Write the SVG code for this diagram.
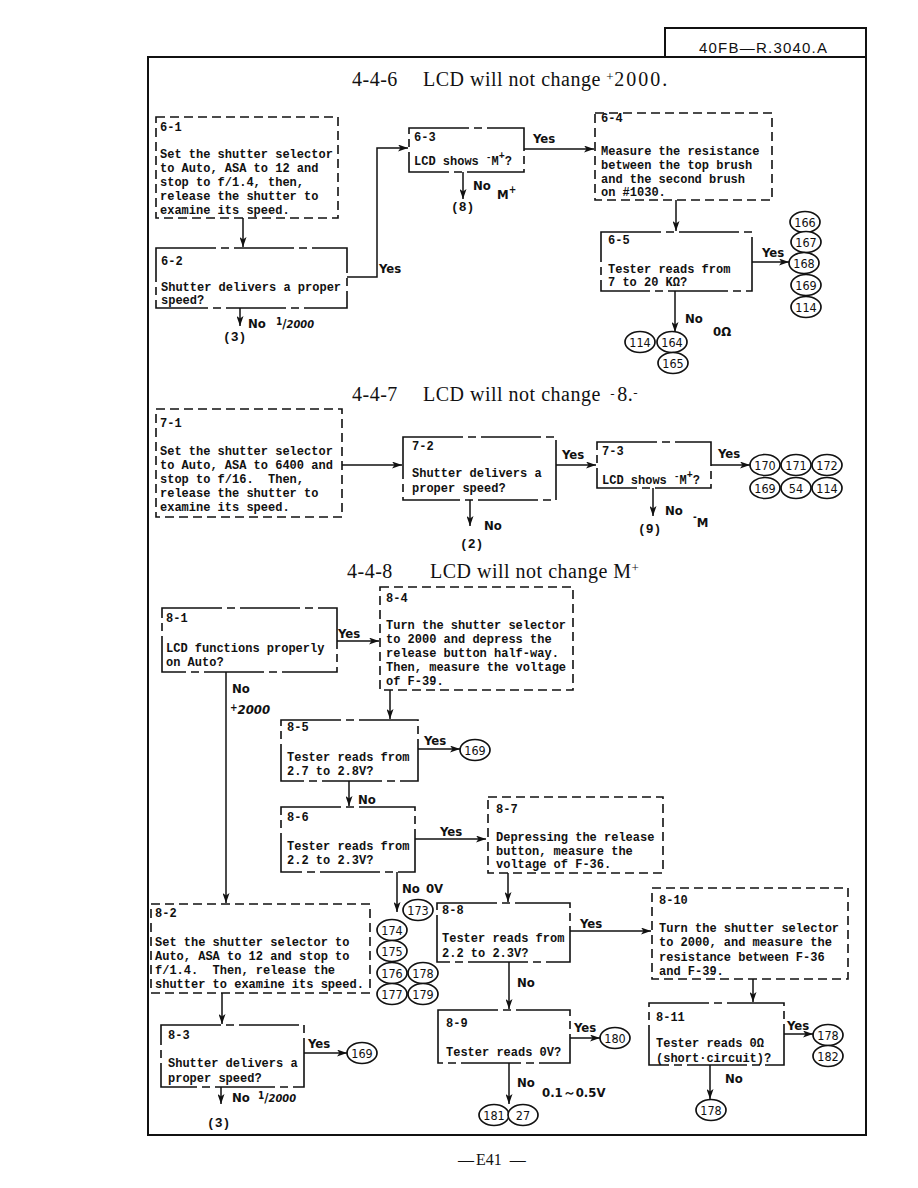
<svg xmlns="http://www.w3.org/2000/svg" width="918" height="1188" viewBox="0 0 918 1188">
<style>
.frame{fill:none;stroke:#111;stroke-width:2}
.proc{fill:none;stroke:#111;stroke-width:1.6;stroke-dasharray:9 5}
.dec{fill:none;stroke:#111;stroke-width:1.6;stroke-dasharray:60 5 8 5}
.ln{fill:none;stroke:#111;stroke-width:1.5}
.arr{fill:none;stroke:#111;stroke-width:1.5;marker-end:url(#ah)}
.mono{font-family:"Liberation Mono","DejaVu Sans Mono",monospace;font-size:12px;font-weight:bold;fill:#111;white-space:pre}
.title{font-family:"Liberation Serif","DejaVu Serif",serif;font-size:20px;fill:#111;letter-spacing:0.5px}
.hand{font-family:"DejaVu Sans Condensed","DejaVu Sans",sans-serif;font-size:13px;font-weight:bold;fill:#111}
.ref{font-family:"Liberation Mono","DejaVu Sans Mono",monospace;font-size:13px;font-weight:bold;fill:#111}
.ov{fill:#fff;stroke:#111;stroke-width:1.7}
.on{font-family:"DejaVu Sans Condensed","DejaVu Sans",sans-serif;font-size:12.5px;fill:#111;text-anchor:middle}
</style>
<defs>
<marker id="ah" viewBox="0 0 10 7" refX="10" refY="3.5" markerWidth="10" markerHeight="7" markerUnits="userSpaceOnUse" orient="auto">
<path d="M0,0 L10,3.5 L0,7 L2.5,3.5 z" fill="#111"/>
</marker>
<ellipse id="o" cx="0" cy="0" rx="15" ry="10.5" class="ov"/>
</defs>
<rect width="918" height="1188" fill="#fff"/>

<g id="frame">
<rect x="148" y="57" width="718" height="1078" class="frame"/>
<polyline points="665,57 665,28 866,28 866,57" class="frame"/>
<text x="699" y="53" font-family="Liberation Sans,Arial,sans-serif" font-size="15" fill="#111" textLength="128">40FB—R.3040.A</text>
<text x="352" y="86" class="title">4-4-6</text>
<text x="423" y="86" class="title">LCD will not change <tspan font-size="13" dy="-5">+</tspan><tspan dy="5" letter-spacing="2">2000.</tspan></text>
<text x="352" y="401" class="title">4-4-7</text>
<text x="423" y="401" class="title">LCD will not change <tspan dx="4" font-size="13" dy="-3">-</tspan><tspan dy="3" dx="2">8.</tspan><tspan font-size="13" dy="-4">-</tspan></text>
<text x="347" y="578" class="title">4-4-8</text>
<text x="430" y="578" class="title">LCD will not change M<tspan font-size="13" dy="-6">+</tspan></text>
<text x="458" y="1165" font-family="Liberation Serif,serif" font-size="16" fill="#111">—<tspan dx="2">E41</tspan><tspan dx="8">—</tspan></text>
</g>

<g id="connectors">
<line x1="243" y1="218" x2="243" y2="247" class="arr"/>
<polyline points="347,277 377,277 377,148 408,148" class="arr"/>
<line x1="240" y1="308" x2="240" y2="326" class="arr"/>
<line x1="524" y1="149" x2="594" y2="149" class="arr"/>
<line x1="463" y1="172" x2="463" y2="199" class="arr"/>
<line x1="676" y1="200" x2="676" y2="231" class="arr"/>
<line x1="752" y1="262" x2="789" y2="262" class="arr"/>
<line x1="675" y1="291" x2="675" y2="332" class="arr"/>
<line x1="342" y1="465" x2="402" y2="465" class="arr"/>
<line x1="556" y1="465" x2="596" y2="465" class="arr"/>
<line x1="470" y1="500" x2="470" y2="526" class="arr"/>
<line x1="711" y1="465" x2="750" y2="465" class="arr"/>
<line x1="653" y1="488" x2="653" y2="516" class="arr"/>
<line x1="337" y1="641" x2="379" y2="641" class="arr"/>
<line x1="226" y1="672" x2="226" y2="903" class="arr"/>
<line x1="390" y1="690" x2="390" y2="719" class="arr"/>
<line x1="418" y1="749" x2="460" y2="749" class="arr"/>
<line x1="349" y1="781" x2="349" y2="806" class="arr"/>
<line x1="415" y1="839" x2="486" y2="839" class="arr"/>
<line x1="397" y1="872" x2="397" y2="912" class="arr"/>
<line x1="508" y1="873" x2="508" y2="902" class="arr"/>
<line x1="570" y1="931" x2="651" y2="931" class="arr"/>
<line x1="509" y1="962" x2="509" y2="1009" class="arr"/>
<line x1="570" y1="1038" x2="600" y2="1038" class="arr"/>
<line x1="509" y1="1063" x2="509" y2="1104" class="arr"/>
<line x1="753" y1="979" x2="753" y2="1002" class="arr"/>
<line x1="784" y1="1034" x2="813" y2="1034" class="arr"/>
<line x1="710" y1="1065" x2="710" y2="1099" class="arr"/>
<line x1="222" y1="993" x2="222" y2="1024" class="arr"/>
<line x1="304" y1="1053" x2="347" y2="1053" class="arr"/>
<line x1="221" y1="1087" x2="221" y2="1104" class="arr"/>
</g>

<g id="labels">
<text x="379" y="273" class="hand">Yes</text>
<text x="248" y="328" class="hand">No</text>
<text x="276" y="328" class="hand"><tspan font-size="10" dy="-3">1</tspan><tspan dy="3">/</tspan><tspan font-size="11" font-style="italic">2000</tspan></text>
<text x="223" y="341" class="ref">(3)</text>
<text x="533" y="143" class="hand">Yes</text>
<text x="473" y="190" class="hand">No</text>
<text x="497" y="199" class="hand" font-size="14">M<tspan font-size="10" dy="-6">+</tspan></text>
<text x="451" y="211" class="ref">(8)</text>
<text x="762" y="257" class="hand">Yes</text>
<text x="685" y="323" class="hand" font-size="14">No</text>
<text x="713" y="336" class="hand">0Ω</text>
<text x="562" y="459" class="hand">Yes</text>
<text x="718" y="458" class="hand">Yes</text>
<text x="484" y="530" class="hand" font-size="14">No</text>
<text x="460" y="548" class="ref">(2)</text>
<text x="665" y="515" class="hand" font-size="14">No</text>
<text x="693" y="527" class="hand" font-size="14"><tspan font-size="10" dy="-7">-</tspan><tspan dy="7">M</tspan></text>
<text x="638" y="533" class="ref">(9)</text>
<text x="338" y="638" class="hand">Yes</text>
<text x="232" y="693" class="hand" font-size="14">No</text>
<text x="230" y="714" class="hand" font-weight="bold" font-style="italic" font-size="11"><tspan font-size="10" dy="-3">+</tspan><tspan dy="3">2000</tspan></text>
<text x="424" y="745" class="hand">Yes</text>
<text x="358" y="804" class="hand" font-size="14">No</text>
<text x="440" y="836" class="hand">Yes</text>
<text x="402" y="893" class="hand" font-size="14">No <tspan dx="2">0V</tspan></text>
<text x="580" y="928" class="hand">Yes</text>
<text x="517" y="987" class="hand" font-size="14">No</text>
<text x="574" y="1032" class="hand">Yes</text>
<text x="517" y="1087" class="hand" font-size="14">No</text>
<text x="542" y="1097" class="hand" font-size="12">0.1～0.5V</text>
<text x="787" y="1030" class="hand">Yes</text>
<text x="725" y="1083" class="hand" font-size="14">No</text>
<text x="308" y="1048" class="hand">Yes</text>
<text x="232" y="1102" class="hand" font-size="14">No</text>
<text x="258" y="1102" class="hand"><tspan font-size="10" dy="-3">1</tspan><tspan dy="3">/</tspan><tspan font-size="11" font-style="italic">2000</tspan></text>
<text x="207" y="1127" class="ref">(3)</text>
</g>

<g id="n6-1">
<rect x="156" y="117" width="182" height="101" class="proc"/>
<text class="mono" x="160" y="131">6-1</text>
<text class="mono" x="160" y="158">Set the shutter selector</text>
<text class="mono" x="160" y="172">to Auto, ASA to 12 and</text>
<text class="mono" x="160" y="186">stop to f/1.4, then,</text>
<text class="mono" x="160" y="200">release the shutter to</text>
<text class="mono" x="160" y="214">examine its speed.</text>
</g>
<g id="n6-2">
<rect x="156" y="248" width="191" height="60" class="dec"/>
<text class="mono" x="161" y="265">6-2</text>
<text class="mono" x="161" y="291">Shutter delivers a proper</text>
<text class="mono" x="161" y="304">speed?</text>
</g>
<g id="n6-3">
<rect x="409" y="128" width="115" height="44" class="dec"/>
<text class="mono" x="414" y="141">6-3</text>
<text class="mono" x="414" y="165">LCD shows <tspan font-size="9" dy="-5">-</tspan><tspan dy="5">M</tspan><tspan font-size="10" dy="-6">+</tspan><tspan dy="6">?</tspan></text>
</g>
<g id="n6-4">
<rect x="595" y="113" width="177" height="87" class="proc"/>
<text class="mono" x="601" y="122">6-4</text>
<text class="mono" x="601" y="155">Measure the resistance</text>
<text class="mono" x="601" y="169">between the top brush</text>
<text class="mono" x="601" y="183">and the second brush</text>
<text class="mono" x="601" y="196">on #1030.</text>
</g>
<g id="n6-5">
<rect x="601" y="232" width="151" height="59" class="dec"/>
<text class="mono" x="608" y="244">6-5</text>
<text class="mono" x="608" y="273">Tester reads from</text>
<text class="mono" x="608" y="286">7 to 20 KΩ?</text>
</g>
<g id="c6-yes">
<use href="#o" x="805" y="222"/><text class="on" x="805" y="226.5">166</text>
<use href="#o" x="806" y="242"/><text class="on" x="806" y="246.5">167</text>
<use href="#o" x="804" y="263"/><text class="on" x="804" y="267.5">168</text>
<use href="#o" x="806" y="285"/><text class="on" x="806" y="289.5">169</text>
<use href="#o" x="806" y="307"/><text class="on" x="806" y="311.5">114</text>
</g>
<g id="c6-no">
<use href="#o" x="640" y="342"/><text class="on" x="640" y="346.5">114</text>
<use href="#o" x="672" y="342"/><text class="on" x="672" y="346.5">164</text>
<use href="#o" x="673" y="363"/><text class="on" x="673" y="367.5">165</text>
</g>

<g id="n7-1">
<rect x="156" y="409" width="186" height="108" class="proc"/>
<text class="mono" x="160" y="427">7-1</text>
<text class="mono" x="160" y="455">Set the shutter selector</text>
<text class="mono" x="160" y="469">to Auto, ASA to 6400 and</text>
<text class="mono" x="160" y="483">stop to f/16.  Then,</text>
<text class="mono" x="160" y="497">release the shutter to</text>
<text class="mono" x="160" y="511">examine its speed.</text>
</g>
<g id="n7-2">
<rect x="403" y="437" width="153" height="63" class="dec"/>
<text class="mono" x="412" y="450">7-2</text>
<text class="mono" x="412" y="477">Shutter delivers a</text>
<text class="mono" x="412" y="492">proper speed?</text>
</g>
<g id="n7-3">
<rect x="597" y="442" width="114" height="46" class="dec"/>
<text class="mono" x="602" y="455">7-3</text>
<text class="mono" x="602" y="484">LCD shows <tspan font-size="9" dy="-5">-</tspan><tspan dy="5">M</tspan><tspan font-size="10" dy="-6">+</tspan><tspan dy="6">?</tspan></text>
</g>
<g id="c7-yes">
<use href="#o" x="765" y="465"/><text class="on" x="765" y="469.5">170</text>
<use href="#o" x="796" y="465"/><text class="on" x="796" y="469.5">171</text>
<use href="#o" x="827" y="465"/><text class="on" x="827" y="469.5">172</text>
<use href="#o" x="765" y="488"/><text class="on" x="765" y="492.5">169</text>
<use href="#o" x="796" y="488"/><text class="on" x="796" y="492.5">54</text>
<use href="#o" x="827" y="488"/><text class="on" x="827" y="492.5">114</text>
</g>

<g id="n8-1">
<rect x="162" y="608" width="175" height="64" class="dec"/>
<text class="mono" x="166" y="622">8-1</text>
<text class="mono" x="166" y="652">LCD functions properly</text>
<text class="mono" x="166" y="666">on Auto?</text>
</g>
<g id="n8-4">
<rect x="380" y="587" width="193" height="103" class="proc"/>
<text class="mono" x="386" y="602">8-4</text>
<text class="mono" x="386" y="629">Turn the shutter selector</text>
<text class="mono" x="386" y="643">to 2000 and depress the</text>
<text class="mono" x="386" y="657">release button half-way.</text>
<text class="mono" x="386" y="671">Then, measure the voltage</text>
<text class="mono" x="386" y="685">of F-39.</text>
</g>
<g id="n8-5">
<rect x="281" y="720" width="137" height="61" class="dec"/>
<text class="mono" x="287" y="731">8-5</text>
<text class="mono" x="287" y="761">Tester reads from</text>
<text class="mono" x="287" y="775">2.7 to 2.8V?</text>
</g>
<g id="c8-5">
<use href="#o" x="475" y="750"/><text class="on" x="475" y="754.5">169</text>
</g>
<g id="n8-6">
<rect x="281" y="807" width="134" height="65" class="dec"/>
<text class="mono" x="287" y="821">8-6</text>
<text class="mono" x="287" y="850">Tester reads from</text>
<text class="mono" x="287" y="864">2.2 to 2.3V?</text>
</g>
<g id="n8-7">
<rect x="488" y="797" width="175" height="76" class="proc"/>
<text class="mono" x="496" y="813">8-7</text>
<text class="mono" x="496" y="841">Depressing the release</text>
<text class="mono" x="496" y="855">button, measure the</text>
<text class="mono" x="496" y="868">voltage of F-36.</text>
</g>
<g id="c8-6">
<use href="#o" x="418" y="910"/><text class="on" x="418" y="914.5">173</text>
<use href="#o" x="392" y="930"/><text class="on" x="392" y="934.5">174</text>
<use href="#o" x="392" y="951"/><text class="on" x="392" y="955.5">175</text>
<use href="#o" x="392" y="973"/><text class="on" x="392" y="977.5">176</text>
<use href="#o" x="423" y="973"/><text class="on" x="423" y="977.5">178</text>
<use href="#o" x="392" y="994"/><text class="on" x="392" y="998.5">177</text>
<use href="#o" x="423" y="994"/><text class="on" x="423" y="998.5">179</text>
</g>
<g id="n8-8">
<rect x="437" y="903" width="133" height="59" class="dec"/>
<text class="mono" x="442" y="914">8-8</text>
<text class="mono" x="442" y="942">Tester reads from</text>
<text class="mono" x="442" y="957">2.2 to 2.3V?</text>
</g>
<g id="n8-9">
<rect x="438" y="1010" width="132" height="53" class="dec"/>
<text class="mono" x="446" y="1027">8-9</text>
<text class="mono" x="446" y="1056">Tester reads 0V?</text>
</g>
<g id="c8-9">
<use href="#o" x="615" y="1038"/><text class="on" x="615" y="1042.5">180</text>
<use href="#o" x="494" y="1115"/><text class="on" x="494" y="1119.5">181</text>
<use href="#o" x="523" y="1115"/><text class="on" x="523" y="1119.5">27</text>
</g>
<g id="n8-10">
<rect x="652" y="888" width="196" height="91" class="proc"/>
<text class="mono" x="659" y="904">8-10</text>
<text class="mono" x="659" y="932">Turn the shutter selector</text>
<text class="mono" x="659" y="946">to 2000, and measure the</text>
<text class="mono" x="659" y="961">resistance between F-36</text>
<text class="mono" x="659" y="975">and F-39.</text>
</g>
<g id="n8-11">
<rect x="649" y="1003" width="135" height="62" class="dec"/>
<text class="mono" x="656" y="1021">8-11</text>
<text class="mono" x="656" y="1047">Tester reads 0Ω</text>
<text class="mono" x="656" y="1062">(short·circuit)?</text>
</g>
<g id="c8-11">
<use href="#o" x="828" y="1035"/><text class="on" x="828" y="1039.5">178</text>
<use href="#o" x="828" y="1056"/><text class="on" x="828" y="1060.5">182</text>
<use href="#o" x="711" y="1110"/><text class="on" x="711" y="1114.5">178</text>
</g>
<g id="n8-2">
<rect x="151" y="904" width="219" height="89" class="proc"/>
<text class="mono" x="155" y="917">8-2</text>
<text class="mono" x="155" y="946">Set the shutter selector to</text>
<text class="mono" x="155" y="960">Auto, ASA to 12 and stop to</text>
<text class="mono" x="155" y="974">f/1.4.  Then, release the</text>
<text class="mono" x="155" y="988">shutter to examine its speed.</text>
</g>
<g id="n8-3">
<rect x="161" y="1025" width="143" height="62" class="dec"/>
<text class="mono" x="168" y="1039">8-3</text>
<text class="mono" x="168" y="1067">Shutter delivers a</text>
<text class="mono" x="168" y="1082">proper speed?</text>
</g>
<g id="c8-3">
<use href="#o" x="362" y="1053"/><text class="on" x="362" y="1057.5">169</text>
</g>
</svg>
